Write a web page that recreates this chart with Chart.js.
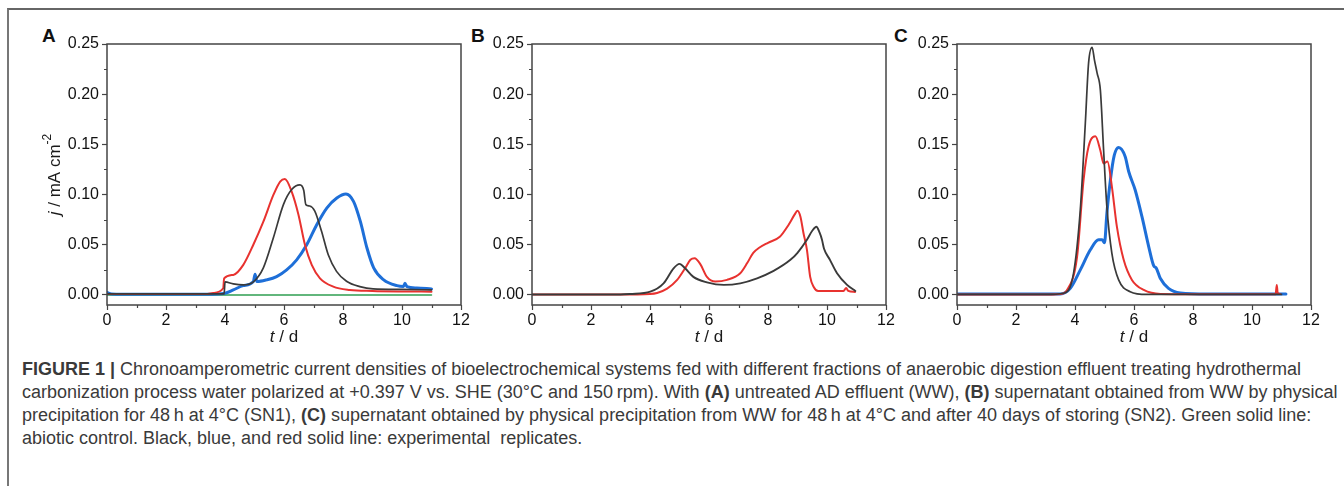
<!DOCTYPE html>
<html>
<head>
<meta charset="utf-8">
<script src="https://cdn.jsdelivr.net/npm/chart.js@4.4.1/dist/chart.umd.min.js"></script>
<style>
  html, body { margin: 0; padding: 0; background: #fff; }
  body { width: 1344px; height: 486px; position: relative; overflow: hidden; font-family: "Liberation Sans", Arial, sans-serif; }
  .frame { position: absolute; left: 7px; top: 8px; right: -4px; bottom: -4px; border-top: 2px solid #666; border-left: 2px solid #777; }
  canvas { position: absolute; }
  .panel { position: absolute; font-weight: bold; font-size: 19px; color: #111; top: 25px; }
  .caption { position: absolute; left: 22px; top: 358px; font-size: 18px; line-height: 23px; color: #3a3a3a; white-space: nowrap; }
</style>
</head>
<body>
<div class="frame"></div>
<div class="panel" style="left:42px">A</div>
<div class="panel" style="left:471px">B</div>
<div class="panel" style="left:894px">C</div>
<canvas id="chartA" width="455" height="315" style="left:20px;top:30px"></canvas>
<canvas id="chartB" width="440" height="315" style="left:460px;top:30px"></canvas>
<canvas id="chartC" width="425" height="315" style="left:900px;top:30px"></canvas>
<div class="caption">
<b>FIGURE 1 |</b> Chronoamperometric current densities of bioelectrochemical systems fed with different fractions of anaerobic digestion effluent treating hydrothermal<br>
carbonization process water polarized at +0.397 V vs. SHE (30°C and 150&#8201;rpm). With <b>(A)</b> untreated AD effluent (WW), <b>(B)</b> supernatant obtained from WW by physical<br>
precipitation for 48&#8201;h at 4°C (SN1), <b>(C)</b> supernatant obtained by physical precipitation from WW for 48&#8201;h at 4°C and after 40 days of storing (SN2). Green solid line:<br>
abiotic control. Black, blue, and red solid line: experimental&nbsp; replicates.
</div>
<script>
// axis ticks
const xTicks = [0, 2, 4, 6, 8, 10, 12];
const xMinor = [1, 3, 5, 7, 9, 11];
const yTicks = [0, 0.05, 0.10, 0.15, 0.20, 0.25];
const yMinor = [0.025, 0.075, 0.125, 0.175, 0.225];

// panel A (WW)
const tA_black = [0, 1, 2, 3, 3.9, 3.97, 4.0, 4.28, 4.62, 4.96, 5.3, 5.64, 5.98, 6.26, 6.54, 6.67, 6.74, 6.87, 7.04, 7.27, 7.5, 7.78, 8.12, 8.57, 9.02, 10, 11];
const jA_black = [0.001, 0.001, 0.001, 0.001, 0.001, 0.001, 0.013, 0.011, 0.010, 0.013, 0.027, 0.057, 0.090, 0.105, 0.1096, 0.104, 0.090, 0.0886, 0.0837, 0.0637, 0.040, 0.0235, 0.0136, 0.0083, 0.006, 0.0055, 0.005];
const tA_red = [0, 1, 2, 3, 3.4, 3.6, 3.94, 3.97, 4.28, 4.62, 4.96, 5.3, 5.64, 5.87, 6.03, 6.26, 6.49, 6.71, 6.94, 7.22, 7.67, 8.23, 9, 10, 11];
const jA_red = [0.001, 0.001, 0.001, 0.001, 0.001, 0.002, 0.0067, 0.0166, 0.020, 0.030, 0.050, 0.073, 0.0996, 0.113, 0.1155, 0.103, 0.080, 0.050, 0.030, 0.0166, 0.0083, 0.005, 0.004, 0.0035, 0.0033];
const tA_blue = [0, 0.15, 1, 2, 3, 3.4, 4.0, 4.28, 4.62, 4.96, 5.02, 5.08, 5.41, 5.75, 6.09, 6.43, 6.77, 7.11, 7.45, 7.79, 8.1, 8.36, 8.59, 8.81, 9.04, 9.38, 9.83, 10.05, 10.1, 10.17, 10.5, 11];
const jA_blue = [0.0025, 0.001, 0.0007, 0.0007, 0.0007, 0.0007, 0.0017, 0.005, 0.0093, 0.0133, 0.0206, 0.0133, 0.015, 0.0183, 0.025, 0.035, 0.050, 0.070, 0.0866, 0.0966, 0.1006, 0.093, 0.073, 0.047, 0.027, 0.015, 0.0093, 0.0085, 0.0116, 0.0083, 0.007, 0.006];
const tA_green = [0, 11];
const jA_green = [0, 0];

// panel B (SN1)
const tB_black = [0, 1, 2, 3, 3.33, 4.01, 4.46, 4.8, 5.0, 5.19, 5.47, 5.93, 6.5, 7.06, 7.63, 8.19, 8.76, 9.0, 9.32, 9.5, 9.64, 9.75, 9.83, 9.9, 10.1, 10.34, 10.68, 10.96];
const jB_black = [0.0005, 0.0005, 0.0005, 0.0005, 0.001, 0.0033, 0.0116, 0.0266, 0.031, 0.0266, 0.018, 0.0126, 0.010, 0.0116, 0.0166, 0.024, 0.035, 0.042, 0.055, 0.064, 0.068, 0.062, 0.055, 0.046, 0.035, 0.0216, 0.010, 0.004];
const tB_red = [0, 1, 2, 3, 4.0, 4.24, 4.58, 4.92, 5.19, 5.37, 5.51, 5.7, 5.93, 6.21, 6.61, 7.06, 7.3, 7.5, 7.7, 8.0, 8.4, 8.7, 8.9, 9.0, 9.1, 9.2, 9.32, 9.43, 9.55, 9.7, 10.56, 10.65, 10.72, 10.95];
const jB_red = [0.0005, 0.0005, 0.0005, 0.0005, 0.001, 0.002, 0.0063, 0.015, 0.0266, 0.035, 0.0365, 0.031, 0.018, 0.0133, 0.015, 0.0216, 0.032, 0.042, 0.047, 0.052, 0.058, 0.070, 0.080, 0.084, 0.078, 0.062, 0.045, 0.018, 0.008, 0.004, 0.004, 0.007, 0.004, 0.003];

// panel C (SN2)
const tC_black = [0, 1, 2, 3, 3.61, 3.95, 4.18, 4.35, 4.46, 4.58, 4.66, 4.75, 4.86, 4.97, 5.08, 5.25, 5.48, 5.87, 6.44, 8, 11];
const jC_black = [0.0005, 0.0005, 0.0005, 0.0005, 0.0017, 0.0216, 0.085, 0.171, 0.231, 0.2467, 0.234, 0.221, 0.204, 0.144, 0.088, 0.0415, 0.015, 0.0033, 0.0005, 0.0005, 0.0005];
const tC_red = [0, 1, 2, 3, 3.5, 3.73, 4.07, 4.29, 4.46, 4.69, 4.86, 4.97, 5.1, 5.25, 5.42, 5.65, 5.93, 6.33, 6.9, 8, 10.8, 10.84, 10.87, 10.95];
const jC_red = [0.0005, 0.0005, 0.0005, 0.0005, 0.001, 0.005, 0.038, 0.1145, 0.148, 0.158, 0.144, 0.131, 0.133, 0.108, 0.068, 0.035, 0.015, 0.005, 0.001, 0.0008, 0.0008, 0.010, 0.002, 0.001];
const tC_blue = [0, 1, 2, 3, 3.5, 3.84, 4.18, 4.52, 4.8, 4.92, 5.0, 5.08, 5.2, 5.33, 5.48, 5.7, 5.82, 6.04, 6.27, 6.5, 6.67, 6.75, 6.89, 7.17, 7.57, 8.5, 11.15];
const jC_blue = [0.001, 0.001, 0.001, 0.001, 0.001, 0.0066, 0.025, 0.045, 0.055, 0.055, 0.052, 0.081, 0.1145, 0.139, 0.147, 0.138, 0.123, 0.1046, 0.078, 0.048, 0.029, 0.027, 0.0166, 0.0066, 0.002, 0.001, 0.001];

const RED = '#e8322f', BLACK = '#3a3a3a', BLUE = '#1e6fd8', GREEN = '#2f9e52';
const tickFont = { family: 'Liberation Sans', size: 16 };

function pts(t, j) {
  return t.map((v, i) => ({ x: v, y: j[i] }));
}

function line(t, j, color, width) {
  return { data: pts(t, j), borderColor: color, borderWidth: width, pointRadius: 0, fill: false };
}

// frame, minor ticks and axis titles
function decorations(showYTitle, canvasLeft) {
  return {
    id: 'decorations',
    afterDraw(chart) {
      const { ctx, chartArea: a, scales: { x, y } } = chart;
      ctx.save();
      ctx.strokeStyle = '#444';
      ctx.lineWidth = 1.5;
      ctx.strokeRect(a.left, a.top, a.width, a.height);
      ctx.lineWidth = 1.2;
      ctx.beginPath();
      xMinor.forEach(v => {
        const px = Math.round(x.getPixelForValue(v)) + 0.5;
        ctx.moveTo(px, a.bottom);
        ctx.lineTo(px, a.bottom + 3);
      });
      yMinor.forEach(v => {
        const py = Math.round(y.getPixelForValue(v)) + 0.5;
        ctx.moveTo(a.left, py);
        ctx.lineTo(a.left - 3, py);
      });
      ctx.stroke();

      // x title: t / d
      ctx.fillStyle = '#1a1a1a';
      ctx.textBaseline = 'middle';
      ctx.textAlign = 'left';
      const it = 'italic 17px "Liberation Sans"', nm = '17px "Liberation Sans"';
      ctx.font = it; const w1 = ctx.measureText('t').width;
      ctx.font = nm; const w2 = ctx.measureText(' / d').width;
      let cx = (a.left + a.right) / 2 - (w1 + w2) / 2;
      const ty = a.bottom + 32;
      ctx.font = it; ctx.fillText('t', cx, ty);
      ctx.font = nm; ctx.fillText(' / d', cx + w1, ty);

      if (showYTitle) {
        ctx.translate(55 - canvasLeft, (a.top + a.bottom) / 2);
        ctx.rotate(-Math.PI / 2);
        ctx.font = it; const s1 = ctx.measureText('j').width;
        ctx.font = nm; const s2 = ctx.measureText(' / mA cm').width;
        ctx.font = '12px "Liberation Sans"'; const s3 = ctx.measureText('-2').width;
        let sx = -(s1 + s2 + s3) / 2;
        ctx.font = it; ctx.fillText('j', sx, 0);
        ctx.font = nm; ctx.fillText(' / mA cm', sx + s1, 0);
        ctx.font = '12px "Liberation Sans"'; ctx.fillText('-2', sx + s1 + s2, -7);
      }
      ctx.restore();
    }
  };
}

function makePanel(id, datasets, yWidth, canvasLeft, showYTitle) {
  const ctx = document.getElementById(id).getContext('2d');
  const grid = { display: true, drawOnChartArea: false, drawTicks: true, tickLength: 5, tickColor: '#444', tickWidth: 1.2 };
  return new Chart(ctx, {
    type: 'line',
    data: { datasets: datasets },
    options: {
      responsive: false,
      animation: false,
      layout: { padding: { top: 14, right: 14, left: 0, bottom: 0 } },
      plugins: { legend: { display: false }, tooltip: { enabled: false } },
      elements: { line: { cubicInterpolationMode: 'monotone', borderJoinStyle: 'round', borderCapStyle: 'round' } },
      scales: {
        x: {
          type: 'linear', min: 0, max: 12,
          afterBuildTicks: s => { s.ticks = xTicks.map(v => ({ value: v })); },
          afterFit: s => { s.height = 40; },
          ticks: { font: tickFont, color: '#111', padding: 1, maxRotation: 0, autoSkip: false, callback: v => String(v) },
          grid: grid,
          border: { display: false }
        },
        y: {
          type: 'linear', min: -0.01, max: 0.25,
          afterBuildTicks: s => { s.ticks = yTicks.map(v => ({ value: v })); },
          afterFit: s => { s.width = yWidth; },
          ticks: { font: tickFont, color: '#111', padding: 3, autoSkip: false, callback: v => v.toFixed(2) },
          grid: grid,
          border: { display: false }
        }
      }
    },
    plugins: [decorations(showYTitle, canvasLeft)]
  });
}

makePanel('chartA', [
  line(tA_black, jA_black, BLACK, 1.7),
  line(tA_red, jA_red, RED, 2),
  line(tA_blue, jA_blue, BLUE, 3),
  line(tA_green, jA_green, GREEN, 1.5)
], 87, 20, true);

makePanel('chartB', [
  line(tB_black, jB_black, BLACK, 1.9),
  line(tB_red, jB_red, RED, 2)
], 72, 460, false);

makePanel('chartC', [
  line(tC_black, jC_black, BLACK, 1.7),
  line(tC_red, jC_red, RED, 2),
  line(tC_blue, jC_blue, BLUE, 3)
], 57, 900, false);
</script>
</body>
</html>
